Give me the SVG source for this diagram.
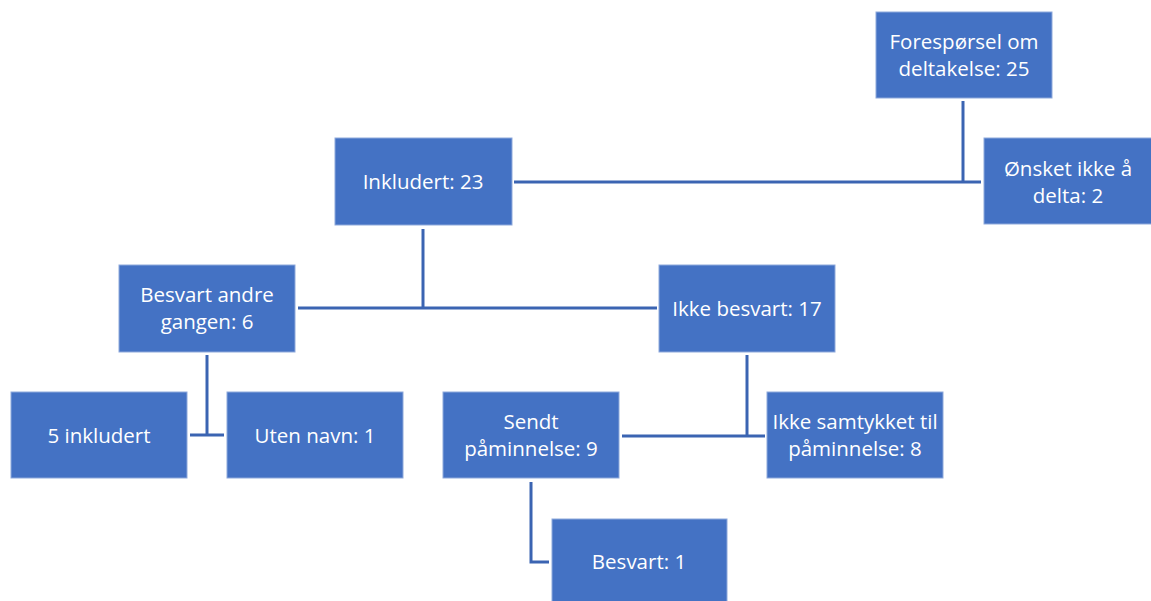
<svg xmlns="http://www.w3.org/2000/svg" width="1151" height="601" viewBox="0 0 1151 601">
<style>
.box{fill:#4472C4;stroke:#8EA9DB;stroke-width:1}
.t{font-family:"Open Sans","Liberation Sans",sans-serif;font-size:20.5px;fill:#ffffff;text-anchor:middle}
.c{fill:none;stroke:#3B64B2;stroke-width:3}
</style>
<rect width="1151" height="601" fill="#ffffff"/>
<g id="connectors">
<path class="c" d="M963,101 V182"/>
<path class="c" d="M514,182 H981"/>
<path class="c" d="M423,229 V308"/>
<path class="c" d="M298,308 H657"/>
<path class="c" d="M207,355 V435"/>
<path class="c" d="M190,435 H224"/>
<path class="c" d="M747,355 V436"/>
<path class="c" d="M622,436 H765"/>
<path class="c" d="M531,482 V562 H549"/>
</g>
<g id="n1"><rect class="box" x="876" y="12" width="176" height="86"/><text class="t" x="964" y="49">Forespørsel om<tspan x="964" dy="27">deltakelse: 25</tspan></text></g>
<g id="n2"><rect class="box" x="984" y="138" width="168" height="86"/><text class="t" x="1068" y="176">Ønsket ikke å<tspan x="1068" dy="27">delta: 2</tspan></text></g>
<g id="n3"><rect class="box" x="335" y="138" width="177" height="87"/><text class="t" x="423" y="189">Inkludert: 23</text></g>
<g id="n4"><rect class="box" x="119" y="265" width="176" height="87"/><text class="t" x="207" y="302">Besvart andre<tspan x="207" dy="27">gangen: 6</tspan></text></g>
<g id="n5"><rect class="box" x="659" y="265" width="176" height="87"/><text class="t" x="747" y="316">Ikke besvart: 17</text></g>
<g id="n6"><rect class="box" x="11" y="392" width="176" height="86"/><text class="t" x="99" y="443">5 inkludert</text></g>
<g id="n7"><rect class="box" x="227" y="392" width="176" height="86"/><text class="t" x="315" y="443">Uten navn: 1</text></g>
<g id="n8"><rect class="box" x="443" y="392" width="176" height="86"/><text class="t" x="531" y="429">Sendt<tspan x="531" dy="27">påminnelse: 9</tspan></text></g>
<g id="n9"><rect class="box" x="767" y="392" width="176" height="86"/><text class="t" x="855" y="429">Ikke samtykket til<tspan x="855" dy="27">påminnelse: 8</tspan></text></g>
<g id="n10"><rect class="box" x="552" y="519" width="175" height="86"/><text class="t" x="639" y="569">Besvart: 1</text></g>
</svg>
